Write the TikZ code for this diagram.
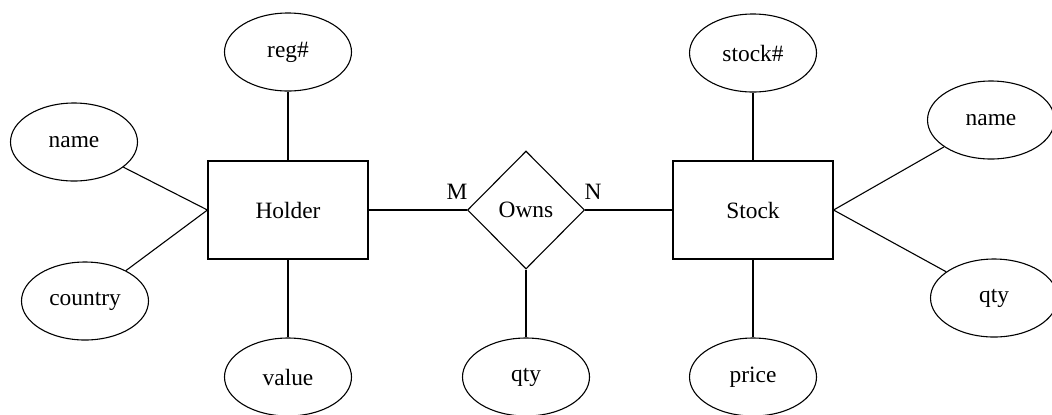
\documentclass[tikz,border=0pt]{standalone}
\usepackage{fontspec}
\setmainfont{Liberation Serif}
\usetikzlibrary{shapes.geometric,positioning}
\tikzset{
	attr/.style={ellipse,draw,minimum width=63.5pt,minimum height=39pt,inner sep=0pt},
	entity/.style={rectangle,draw,minimum width=80pt,minimum height=49pt,inner sep=0pt},
	rel/.style={diamond,draw,minimum width=58.5pt,minimum height=59pt,inner sep=0pt},
}
\begin{document}
\begin{tikzpicture}[x=0.5pt,y=-0.5pt,line width=0.55pt,font=\fontsize{11.7}{14}\selectfont]
		\useasboundingbox (0,0) rectangle (1052,414);
		% entities and relationship
		\node[entity] (holder) at (288,210) {Holder};
		\node[entity] (stock) at (753,210) {Stock};
		\node[rel] (owns) at (526,210) {Owns};
		% attributes
		\node[attr] (regno) at (288,52) {reg\#};
		\node[attr] (hname) at (74,142) {name};
		\node[attr] (country) at (85,301) {country};
		\node[attr] (value) at (288,377) {value};
		\node[attr] (oqty) at (526,377) {qty};
		\node[attr] (stockno) at (753,53) {stock\#};
		\node[attr] (price) at (753,377) {price};
		\node[attr] (sname) at (991,120) {name};
		\node[attr] (sqty) at (994,298) {qty};
		\path[-]
		(holder) edge (owns)
		(owns) edge (stock)
		(holder) edge (regno)
		(holder) edge (value)
		(hname) edge (holder.west)
		(country) edge (holder.west)
		(owns) edge (oqty)
		(stock) edge (stockno)
		(stock) edge (price)
		(stock.east) edge (sname)
		(stock.east) edge (sqty);
		% cardinalities
		\node (m) at (457,192) {M};
		\node (n) at (593,192) {N};
	\end{tikzpicture}
\end{document}
